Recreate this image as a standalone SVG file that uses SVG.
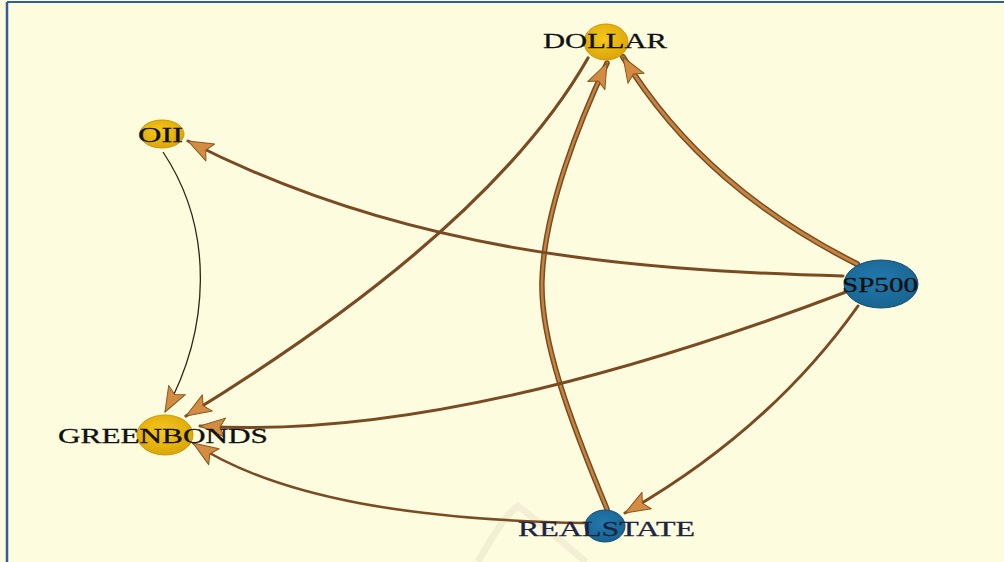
<svg xmlns="http://www.w3.org/2000/svg" width="1004" height="562" viewBox="0 0 1004 562">
<style>
.e{fill:none;stroke:#7a4b22;stroke-linecap:round}
.ei{fill:none;stroke:#c4843f;stroke-linecap:round}
.lbl{font-family:"Liberation Serif","Times New Roman",serif;font-size:22px;fill:#111;stroke:#111;stroke-width:0.3}
.ynode{fill:url(#yg);stroke:#c99a08;stroke-width:1}
.bnode{fill:url(#bg);stroke:#124e72;stroke-width:1}
</style>
<defs>
<radialGradient id="yg" cx="0.45" cy="0.4" r="0.65">
<stop offset="0" stop-color="#f6c81c"/>
<stop offset="1" stop-color="#daa306"/>
</radialGradient>
<radialGradient id="bg" cx="0.45" cy="0.4" r="0.65">
<stop offset="0" stop-color="#2279ad"/>
<stop offset="1" stop-color="#17638f"/>
</radialGradient>
<marker id="ah" viewBox="-27 -12 29 24" markerWidth="29" markerHeight="24" refX="0" refY="0" orient="auto" markerUnits="userSpaceOnUse" overflow="visible">
<path d="M0,0 L-25,-9.5 L-20,0 L-25,9.5 Z" fill="#d38c40" stroke="#8a5524" stroke-width="1" stroke-linejoin="round"/>
</marker>
</defs>
<rect width="1004" height="562" fill="#fefcdf"/>
<path d="M478,562 C490,540 505,515 518,506 C530,515 560,540 586,562" fill="none" stroke="#eeead0" stroke-width="7" opacity="0.7"/>
<line x1="7" y1="2" x2="1004" y2="2" stroke="#2f5e9a" stroke-width="2"/>
<line x1="7" y1="2" x2="7" y2="562" stroke="#2f5e9a" stroke-width="2.5"/>
<g id="connectors">
<path class="e" d="M857,264 C760,215 680,150 623,57" stroke-width="6"/>
<path class="ei" d="M857,264 C760,215 680,150 623,57" stroke-width="3" marker-end="url(#ah)"/>
<path class="e" d="M607,509 C570,420 540,340 542,280 C544,210 580,120 607,63" stroke-width="5.5"/>
<path class="ei" d="M607,509 C570,420 540,340 542,280 C544,210 580,120 607,63" stroke-width="2.5" marker-end="url(#ah)"/>
<path class="e" d="M588,58 Q490,230 186,416" stroke-width="3.2" marker-end="url(#ah)"/>
<path class="e" d="M843,276 C620,270 400,250 188,141" stroke-width="3" marker-end="url(#ah)"/>
<path class="e" d="M846,292 C680,355 420,440 200,426" stroke-width="3" marker-end="url(#ah)"/>
<path class="e" d="M858,306 Q770,430 625,513" stroke-width="3" marker-end="url(#ah)"/>
<path class="e" d="M585,523 C420,520 280,500 193,443" stroke-width="2.5" marker-end="url(#ah)"/>
<path d="M163,152 C215,230 210,330 165,412" fill="none" stroke="#2b2418" stroke-width="1.3" marker-end="url(#ah)"/>
</g>
<g id="node-dollar">
<ellipse class="ynode" cx="606" cy="42" rx="22" ry="18"/>
<text class="lbl" x="543" y="48" textLength="124" lengthAdjust="spacingAndGlyphs">DOLLAR</text>
</g>
<g id="node-oil">
<ellipse class="ynode" cx="162" cy="134" rx="22" ry="14"/>
<text class="lbl" x="138" y="142" textLength="45" lengthAdjust="spacingAndGlyphs">OII</text>
</g>
<g id="node-sp500">
<ellipse class="bnode" cx="881" cy="284" rx="37" ry="24"/>
<text class="lbl" x="842" y="292" textLength="76" lengthAdjust="spacingAndGlyphs">SP500</text>
</g>
<g id="node-greenbonds">
<ellipse class="ynode" cx="165" cy="435" rx="28" ry="20"/>
<text class="lbl" x="58" y="443" textLength="210" lengthAdjust="spacingAndGlyphs">GREENBONDS</text>
</g>
<g id="node-realstate">
<ellipse class="bnode" cx="605" cy="526" rx="20" ry="16"/>
<text class="lbl" x="518" y="536" textLength="177" lengthAdjust="spacingAndGlyphs" style="fill:#1c2444;stroke:#1c2444">REALSTATE</text>
</g>
</svg>
